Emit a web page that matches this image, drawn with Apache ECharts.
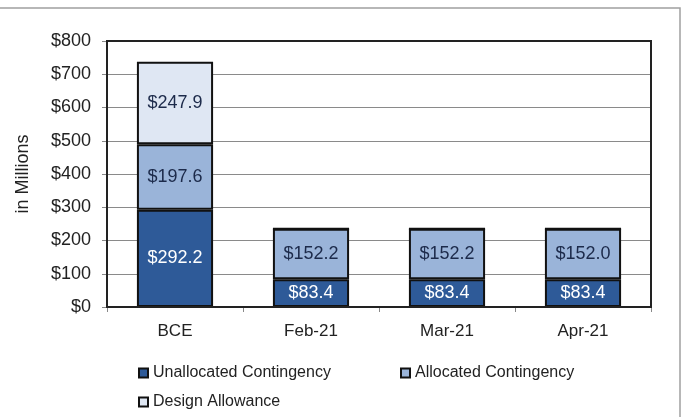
<!DOCTYPE html>
<html>
<head>
<meta charset="utf-8">
<script src="https://cdn.jsdelivr.net/npm/echarts@6/dist/echarts.min.js"></script>
<style>
  html, body { margin: 0; padding: 0; background: #fff; }
  #main { width: 684px; height: 417px; }
</style>
</head>
<body>
<div id="main"></div>
<script>
// data
var categories = ["BCE", "Feb-21", "Mar-21", "Apr-21"];
var unallocated = [292.2, 83.4, 83.4, 83.4];
var allocated = [197.6, 152.2, 152.2, 152.0];
var design = [247.9, 0, 0, 0];
var seriesNames = ["Unallocated Contingency", "Allocated Contingency", "Design Allowance"];

var colors = ["#2e5a98", "#9ab4d9", "#dfe7f3"];
var font = "Arial, 'Liberation Sans', sans-serif";

function money(p) {
  if (!p.value) return "";
  return "$" + p.value.toFixed(1);
}

function barSeries(name, data, color, labelColor) {
  return {
    name: name,
    type: "bar",
    stack: "total",
    barWidth: "56%",
    data: data,
    itemStyle: { color: color, borderColor: "#111", borderWidth: 2 },
    label: {
      show: true,
      position: "inside",
      formatter: money,
      color: labelColor,
      fontFamily: font,
      fontSize: 18
    }
  };
}

// legend items, one per block so they sit like the original layout
function legendItem(name, left, top) {
  return {
    data: [name], left: left, top: top,
    icon: "rect", itemWidth: 9, itemHeight: 9, itemGap: 4,
    textStyle: { fontFamily: font, fontSize: 16, color: "#222" }
  };
}

var myChart = echarts.init(document.getElementById("main"));
var option = {
  animation: false,
  backgroundColor: "#fff",
  grid: { left: 107, right: 33, top: 41, bottom: 110 },
  graphic: [
    {
      type: "rect",
      shape: { x: -4, y: 8, width: 684, height: 420 },
      style: { fill: "none", stroke: "#a0a0a0", lineWidth: 1.5 }
    },
    {
      type: "rect",
      shape: { x: 107, y: 41, width: 544, height: 266 },
      style: { fill: "none", stroke: "#222", lineWidth: 2 },
      z: 100
    }
  ],
  legend: [
    legendItem(seriesNames[0], 133, 360),
    legendItem(seriesNames[1], 395, 360),
    legendItem(seriesNames[2], 133, 389)
  ],
  xAxis: {
    type: "category",
    data: categories,
    axisLine: { lineStyle: { color: "#222", width: 2 } },
    axisTick: { show: true, length: 5, lineStyle: { color: "#888" } },
    axisLabel: { fontFamily: font, fontSize: 17, color: "#222", margin: 16 }
  },
  yAxis: {
    type: "value",
    min: 0,
    max: 800,
    interval: 100,
    name: "in Millions",
    nameLocation: "middle",
    nameGap: 75,
    nameTextStyle: { fontFamily: font, fontSize: 18, color: "#222" },
    axisLine: { show: true, lineStyle: { color: "#222", width: 2 } },
    axisTick: { show: true, length: 5, lineStyle: { color: "#888" } },
    axisLabel: {
      fontFamily: font, fontSize: 18, color: "#222", margin: 16,
      formatter: function (v) { return "$" + v; }
    },
    splitLine: { lineStyle: { color: "#8a8a8a", width: 1 } }
  },
  series: [
    barSeries(seriesNames[0], unallocated, colors[0], "#fff"),
    barSeries(seriesNames[1], allocated, colors[1], "#1c2a4a"),
    barSeries(seriesNames[2], design, colors[2], "#1c2a4a")
  ]
};
option && myChart.setOption(option);
</script>
</body>
</html>
